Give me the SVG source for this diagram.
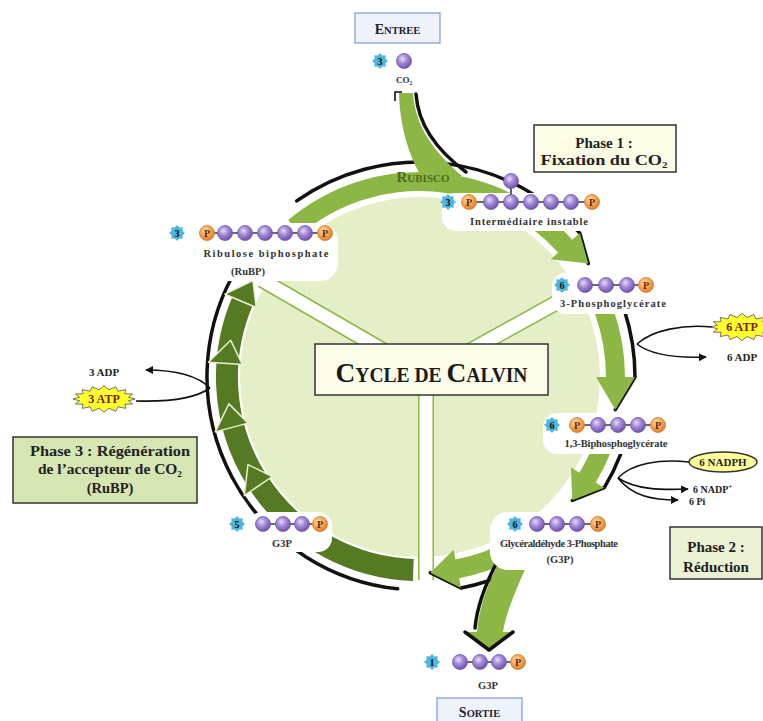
<svg xmlns="http://www.w3.org/2000/svg" width="763" height="721" viewBox="0 0 763 721">
<defs>
<style>
.lbl{font-family:"Liberation Serif","Times New Roman",serif;font-weight:bold;font-size:10.5px;fill:#333;text-anchor:middle}
.num{font-family:"Liberation Serif",serif;font-weight:bold;font-size:10px;fill:#111;text-anchor:middle}
.pt{font-family:"Liberation Serif",serif;font-weight:bold;font-size:10px;fill:#5a2800;text-anchor:middle}
.ph{font-family:"Liberation Serif","Times New Roman",serif;font-weight:bold;font-size:15px;fill:#222;text-anchor:middle}
.sm{font-family:"Liberation Serif",serif;font-weight:bold;font-size:11px;fill:#222;text-anchor:middle}
.atp{font-family:"Liberation Serif",serif;font-weight:bold;font-size:12px;fill:#7a1c0a;text-anchor:middle}
.c{fill:url(#pg);stroke:#7458b0;stroke-width:0.8}
.p{fill:url(#og);stroke:#d07a30;stroke-width:0.8}
.bond{stroke:#3a3a3a;stroke-width:1.6}
.blob{fill:#fff}
.lg{fill:#8cb745}
.dg{fill:#567a24;stroke:#e8f0d0;stroke-width:1.5;stroke-linejoin:round}
.bk{fill:none;stroke:#111;stroke-width:3.5;stroke-linecap:round;stroke-linejoin:round}
.thin{fill:none;stroke:#111;stroke-width:1.6}
.box{stroke:#333;stroke-width:1.5}
.io{fill:#eef3fb;stroke:#7d9acb;stroke-width:1.2}
.cap{font-family:"Liberation Serif",serif;font-weight:bold;fill:#1e1e2e;text-anchor:middle}
</style>
<radialGradient id="pg" cx="0.4" cy="0.35" r="0.65"><stop offset="0" stop-color="#e8dcf8"/><stop offset="0.45" stop-color="#a68bd8"/><stop offset="1" stop-color="#6f52ad"/></radialGradient>
<radialGradient id="og" cx="0.4" cy="0.35" r="0.65"><stop offset="0" stop-color="#ffe0b8"/><stop offset="0.5" stop-color="#f7a85a"/><stop offset="1" stop-color="#e07f2c"/></radialGradient>
<polygon id="star" points="8,0 5.5,2.3 5.7,5.7 2.3,5.5 0,8 -2.3,5.5 -5.7,5.7 -5.5,2.3 -8,0 -5.5,-2.3 -5.7,-5.7 -2.3,-5.5 0,-8 2.3,-5.5 5.7,-5.7 5.5,-2.3" fill="#4fb6dd"/>
<polygon id="burst" points="31,0 24.5,2.3 28.6,6.5 20.8,6.7 21.9,12 13.9,10 11.9,15.7 4.9,11.8 0,17 -4.9,11.8 -11.9,15.7 -13.9,10 -21.9,12 -20.8,6.7 -28.6,6.5 -24.5,2.3 -31,0 -24.5,-2.3 -28.6,-6.5 -20.8,-6.7 -21.9,-12 -13.9,-10 -11.9,-15.7 -4.9,-11.8 0,-17 4.9,-11.8 11.9,-15.7 13.9,-10 21.9,-12 20.8,-6.7 28.6,-6.5 24.5,-2.3" fill="#ffff2e" stroke="#555" stroke-width="0.9"/>
<marker id="ah" viewBox="0 0 10 10" refX="9" refY="5" markerWidth="5" markerHeight="5" orient="auto"><path d="M0,0 L10,5 L0,10 z" fill="#111"/></marker>
</defs>
<rect width="763" height="721" fill="#fff"/>

<g id="cycle">
<circle cx="420" cy="377" r="182" fill="#e4efc8" stroke="#fff" stroke-width="4"/>
<g stroke="#8cb745" stroke-width="16">
<line x1="262" y1="280" x2="426" y2="375"/><line x1="565" y1="298" x2="426" y2="375"/><line x1="426" y1="375" x2="426" y2="580"/>
</g>
<g stroke="#fff" stroke-width="13">
<line x1="262" y1="280" x2="426" y2="375"/><line x1="565" y1="298" x2="426" y2="375"/><line x1="426" y1="375" x2="426" y2="580"/>
</g>
</g>

<g id="connectors">
<path class="bk" d="M296.7,200.9 A215,215 0 0 1 579.8,233.1 L588.3,263.5"/>
<path class="lg" d="M288.2,220 A205,205 0 0 1 572.3,239.8 L579.8,233.1 L588.3,263.5 L550.8,259.2 L558.2,252.5 A186,186 0 0 0 300.4,234.5 Z"/>
<path class="bk" d="M624.5,310.6 A215,215 0 0 1 635,377 L615.3,409.7"/>
<path class="lg" d="M612.6,306.9 A205,205 0 0 1 625,377 L635,377 L615.3,409.7 L596,377 L606,377 A186,186 0 0 0 594.8,313.4 Z"/>
<path class="bk" d="M620.7,454.1 A215,215 0 0 1 604.3,487.7 L572.3,500.3"/>
<path class="lg" d="M611.4,450.5 A205,205 0 0 1 595.7,482.6 L604.3,487.7 L572.3,500.3 L570.9,467.6 L579.4,472.8 A186,186 0 0 0 593.6,443.7 Z"/>
<path class="bk" d="M520.9,566.8 A215,215 0 0 1 461,588 L430.3,572.7"/>
<path class="lg" d="M528.6,550.8 A205,205 0 0 1 459.1,578.2 L461,588 L430.3,572.7 L453.6,549.8 L455.5,559.6 A186,186 0 0 0 518.6,534.7 Z"/>
<path class="bk" d="M397.7,588.8 A213,213 0 0 1 231.9,277"/>
<path d="M413.3,569.9 A193,193 0 0 1 242.3,301.6" fill="none" stroke="#567a24" stroke-width="22"/>
<polygon class="dg" points="244.3,495.6 248,464.6 272.4,476.5"/>
<polygon class="dg" points="215.2,431.9 228.9,403.9 248.1,423.1"/>
<polygon class="dg" points="208.5,362.2 230.6,340.2 242.4,364.6"/>
<polygon class="dg" points="224.9,294.2 252.9,280.5 256.2,307.5"/>
<path class="lg" d="M399,93 L413,93 C415,125 432,150 462,176 L428,188 C410,160 400,130 399,93 Z"/>
<path class="bk" d="M416,94 C418,124 435,149 466,172" stroke-width="3"/>
<path class="thin" d="M395,101 L395,92 L402,92" stroke-width="2.5"/>
<path class="lg" d="M503,555 L527,565 C516,590 506,612 503,632 L511,632 L489,648 L467,632 L477,632 C479,606 489,580 503,555 Z"/>
<path class="bk" d="M497,562 C485,585 477,606 475,628" stroke-width="3"/>
<path class="bk" d="M465,632 L489,650 L513,632" stroke-width="3"/>
<path class="thin" d="M712,327 C684,324 652,330 637,344"/>
<path class="thin" d="M637,344 C652,356 680,358 706,357" marker-end="url(#ah)"/>
<path class="thin" d="M136,401 C168,402 196,398 210,388"/>
<path class="thin" d="M210,388 C196,374 170,370 146,370" marker-end="url(#ah)"/>
<path class="thin" d="M689,462 C660,459 632,463 618,478"/>
<path class="thin" d="M618,478 C636,490 662,490 688,489" marker-end="url(#ah)"/>
<path class="thin" d="M618,478 C632,496 652,500 678,500" marker-end="url(#ah)"/>
</g>

<text x="423" y="182" font-family="Liberation Serif,serif" font-weight="bold" fill="#4d6b1f" text-anchor="middle"><tspan font-size="15">R</tspan><tspan font-size="11">UBISCO</tspan></text>

<g id="entree">
<rect class="io" x="355" y="13" width="85" height="30"/>
<text class="cap" x="397.5" y="34"><tspan font-size="14">E</tspan><tspan font-size="10.5">NTREE</tspan></text>
</g>

<g id="co2">
<use href="#star" x="380" y="61"/><text class="num" x="380" y="64.5">3</text>
<circle class="c" cx="404" cy="61" r="7.5"/>
<text class="lbl" x="404" y="83" style="font-size:9px">CO₂</text>
</g>

<g id="phase1">
<rect class="box" x="534" y="125" width="142" height="47" fill="#fbfbe6"/>
<text class="ph" x="604" y="148">Phase 1 :</text>
<text class="ph" x="604" y="165" textLength="127" lengthAdjust="spacingAndGlyphs">Fixation du CO₂</text>
</g>

<g id="intermediaire">
<rect class="blob" x="442" y="193" width="158" height="38" rx="14"/>
<use href="#star" x="448" y="202"/><text class="num" x="448" y="205.5">3</text>
<line class="bond" x1="469" y1="202" x2="592" y2="202"/>
<line class="bond" x1="511" y1="181" x2="511" y2="202"/>
<circle class="p" cx="469" cy="202" r="7.5"/><text class="pt" x="469" y="205.5">P</text>
<circle class="c" cx="491" cy="202" r="7.5"/><circle class="c" cx="511" cy="202" r="7.5"/><circle class="c" cx="531" cy="202" r="7.5"/><circle class="c" cx="551" cy="202" r="7.5"/><circle class="c" cx="571" cy="202" r="7.5"/>
<circle class="c" cx="511" cy="181" r="7.5"/>
<circle class="p" cx="592" cy="202" r="7.5"/><text class="pt" x="592" y="205.5">P</text>
<text class="lbl" x="529" y="225" textLength="118" lengthAdjust="spacing">Intermédiaire instable</text>
</g>

<g id="rubp">
<rect class="blob" x="192" y="223" width="146" height="58" rx="18"/>
<use href="#star" x="177" y="233"/><text class="num" x="177" y="236.5">3</text>
<line class="bond" x1="207" y1="233" x2="325" y2="233"/>
<circle class="p" cx="207" cy="233" r="7.5"/><text class="pt" x="207" y="236.5">P</text>
<circle class="c" cx="225" cy="233" r="7.5"/><circle class="c" cx="245" cy="233" r="7.5"/><circle class="c" cx="265" cy="233" r="7.5"/><circle class="c" cx="285" cy="233" r="7.5"/><circle class="c" cx="305" cy="233" r="7.5"/>
<circle class="p" cx="325" cy="233" r="7.5"/><text class="pt" x="325" y="236.5">P</text>
<text class="lbl" x="266" y="257" textLength="125" lengthAdjust="spacing">Ribulose biphosphate</text>
<text class="lbl" x="248" y="275">(RuBP)</text>
</g>

<g id="pga">
<rect class="blob" x="552" y="273" width="120" height="41" rx="14"/>
<use href="#star" x="562" y="285"/><text class="num" x="562" y="288.5">6</text>
<line class="bond" x1="585" y1="285" x2="646" y2="285"/>
<circle class="c" cx="585" cy="285" r="7.5"/><circle class="c" cx="606" cy="285" r="7.5"/><circle class="c" cx="627" cy="285" r="7.5"/>
<circle class="p" cx="646" cy="285" r="7.5"/><text class="pt" x="646" y="288.5">P</text>
<text class="lbl" x="613" y="307" textLength="106" lengthAdjust="spacing">3-Phosphoglycérate</text>
</g>

<g id="atp6">
<use href="#burst" transform="translate(742,327) scale(1,0.8)"/>
<text class="atp" x="742" y="331">6 ATP</text>
<text class="sm" x="742" y="361">6 ADP</text>
</g>

<g id="center">
<rect class="box" x="315" y="344" width="233" height="51" fill="#fbfde8"/>
<text x="431.5" y="382" font-family="Liberation Serif,serif" font-weight="bold" fill="#1a1a1a" text-anchor="middle" textLength="192" lengthAdjust="spacingAndGlyphs"><tspan font-size="28">C</tspan><tspan font-size="20">YCLE DE </tspan><tspan font-size="28">C</tspan><tspan font-size="20">ALVIN</tspan></text>
</g>

<g id="atp3">
<use href="#burst" transform="translate(104,399) scale(1,0.78)"/>
<text class="atp" x="104" y="403">3 ATP</text>
<text class="sm" x="104" y="376">3 ADP</text>
</g>

<g id="phase3">
<rect class="box" x="13" y="437" width="184" height="66" fill="#d6e6b2"/>
<text class="ph" x="110" y="456" style="font-size:14.5px" textLength="160" lengthAdjust="spacingAndGlyphs">Phase 3 : Régénération</text>
<text class="ph" x="110" y="474" style="font-size:14.5px" textLength="144" lengthAdjust="spacingAndGlyphs">de l’accepteur de CO₂</text>
<text class="ph" x="110" y="493" style="font-size:14.5px">(RuBP)</text>
</g>

<g id="bpg">
<rect class="blob" x="543" y="413" width="138" height="41" rx="14"/>
<use href="#star" x="552" y="425"/><text class="num" x="552" y="428.5">6</text>
<line class="bond" x1="577" y1="425" x2="658" y2="425"/>
<circle class="p" cx="577" cy="425" r="7.5"/><text class="pt" x="577" y="428.5">P</text>
<circle class="c" cx="598" cy="425" r="7.5"/><circle class="c" cx="618" cy="425" r="7.5"/><circle class="c" cx="638" cy="425" r="7.5"/>
<circle class="p" cx="658" cy="425" r="7.5"/><text class="pt" x="658" y="428.5">P</text>
<text class="lbl" x="616" y="447" textLength="103" lengthAdjust="spacing">1,3-Biphosphoglycérate</text>
</g>

<g id="nadph">
<ellipse cx="723" cy="462" rx="34" ry="10" fill="#ffff99" stroke="#333" stroke-width="1.5"/>
<text class="sm" x="723" y="466">6 NADPH</text>
<text class="sm" x="693" y="493" style="text-anchor:start;font-size:10px">6 NADP<tspan font-size="7" dy="-4">+</tspan></text>
<text class="sm" x="689" y="505" style="text-anchor:start;font-size:10px">6 Pi</text>
</g>

<g id="g3p6">
<rect class="blob" x="490" y="512" width="140" height="58" rx="18"/>
<use href="#star" x="515" y="524"/><text class="num" x="515" y="527.5">6</text>
<line class="bond" x1="537" y1="524" x2="598" y2="524"/>
<circle class="c" cx="537" cy="524" r="7.5"/><circle class="c" cx="557" cy="524" r="7.5"/><circle class="c" cx="577" cy="524" r="7.5"/>
<circle class="p" cx="598" cy="524" r="7.5"/><text class="pt" x="598" y="527.5">P</text>
<text class="lbl" x="559" y="547" textLength="118" lengthAdjust="spacing">Glycéraldéhyde 3-Phosphate</text>
<text class="lbl" x="560" y="563">(G3P)</text>
</g>

<g id="phase2">
<rect class="box" x="670" y="527" width="92" height="52" fill="#eaf1d4"/>
<text class="ph" x="716" y="552">Phase 2 :</text>
<text class="ph" x="716" y="572">Réduction</text>
</g>

<g id="g3p5">
<rect class="blob" x="248" y="512" width="84" height="40" rx="14"/>
<use href="#star" x="237" y="524"/><text class="num" x="237" y="527.5">5</text>
<line class="bond" x1="263" y1="524" x2="320" y2="524"/>
<circle class="c" cx="263" cy="524" r="7.5"/><circle class="c" cx="283" cy="524" r="7.5"/><circle class="c" cx="302" cy="524" r="7.5"/>
<circle class="p" cx="320" cy="524" r="7.5"/><text class="pt" x="320" y="527.5">P</text>
<text class="lbl" x="282" y="547">G3P</text>
</g>

<g id="g3p1">
<use href="#star" x="432" y="662"/><text class="num" x="432" y="665.5">1</text>
<line class="bond" x1="460" y1="662" x2="518" y2="662"/>
<circle class="c" cx="460" cy="662" r="7.5"/><circle class="c" cx="480" cy="662" r="7.5"/><circle class="c" cx="499" cy="662" r="7.5"/>
<circle class="p" cx="518" cy="662" r="7.5"/><text class="pt" x="518" y="665.5">P</text>
<text class="lbl" x="488" y="689">G3P</text>
</g>

<g id="sortie">
<rect class="io" x="437" y="698" width="85" height="30"/>
<text class="cap" x="479.5" y="717"><tspan font-size="14">S</tspan><tspan font-size="10.5">ORTIE</tspan></text>
</g>
</svg>
